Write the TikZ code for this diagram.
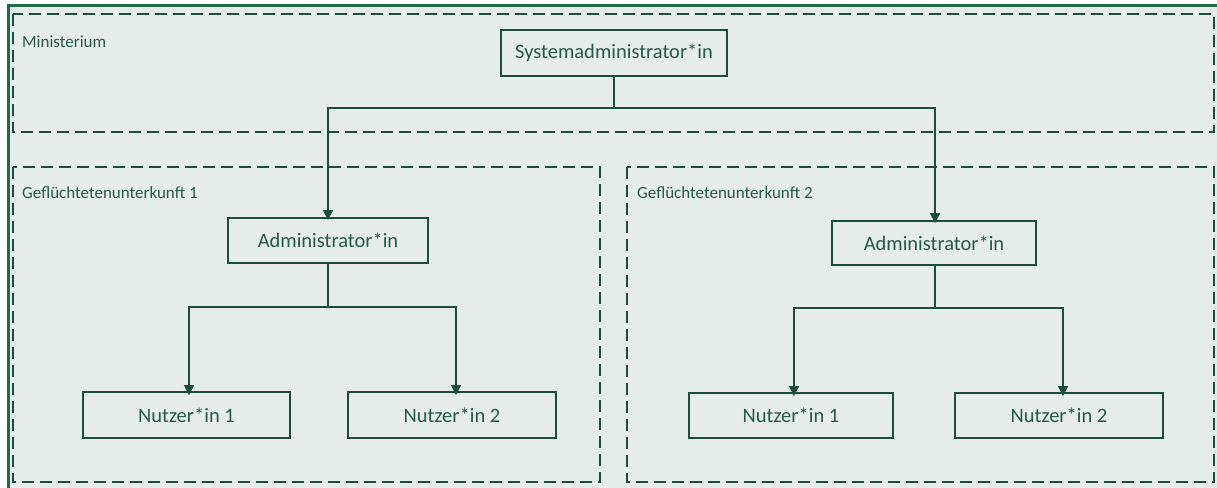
\documentclass[tikz,border=0pt]{standalone}
\usepackage{fontspec}
\setmainfont{Carlito}
\usetikzlibrary{arrows.meta}
\definecolor{bg}{HTML}{E6ECEA}
\definecolor{frame}{HTML}{1F6B45}
\definecolor{ln}{HTML}{1B4D3B}
\definecolor{txt}{HTML}{245A48}
\tikzset{
  role/.style={draw=ln, line width=1.8pt, fill=bg, text=txt, font=\fontsize{20.5}{23}\selectfont, inner sep=0pt, anchor=center},
  zone/.style={draw=ln, line width=2.2pt, dash pattern=on 12pt off 6pt},
  zlabel/.style={text=txt, font=\fontsize{17}{19}\selectfont, anchor=west, inner sep=0pt},
  link/.style={draw=ln, line width=1.6pt},
  arr/.style={link, -{Triangle[length=10pt,width=10pt]}}
}
\begin{document}
\begin{tikzpicture}[x=1pt,y=-1pt]
\useasboundingbox (0,0) rectangle (1217,487);
\begin{scope}
\clip (0,0) rectangle (1217,487);
\fill[bg] (8,6) rectangle (1230,500);
\draw[frame, line width=3pt] (8,6) rectangle (1230,500);
\end{scope}
% zones
\draw[zone] (13,14) rectangle (1214,132);
\draw[zone] (13,167) rectangle (600,482);
\draw[zone] (627,167) rectangle (1214,482);
\node[zlabel] (lmin) at (22,42) {Ministerium};
\node[zlabel] (lgu1) at (22,193) {Geflüchtetenunterkunft 1};
\node[zlabel] (lgu2) at (637,193) {Geflüchtetenunterkunft 2};
% nodes
\node[role, minimum width=226pt, minimum height=46pt] (sys) at (614,53) {Systemadministrator*in};
\node[role, minimum width=200pt, minimum height=45pt] (a1) at (328,240.5) {Administrator*in};
\node[role, minimum width=204pt, minimum height=44pt] (a2) at (934,243) {Administrator*in};
\node[role, minimum width=207pt, minimum height=46pt] (n11) at (186.5,415) {Nutzer*in 1};
\node[role, minimum width=208pt, minimum height=46pt] (n12) at (452,415) {Nutzer*in 2};
\node[role, minimum width=204pt, minimum height=45pt] (n21) at (791,415.5) {Nutzer*in 1};
\node[role, minimum width=208pt, minimum height=45pt] (n22) at (1059,415.5) {Nutzer*in 2};
% connectors
\coordinate (j0) at (614,108);
\coordinate (j1) at (328,307);
\coordinate (j2) at (935,308);
\draw[link] (sys.south) -- (j0);
\draw[arr] (j0) -| ([yshift=-3pt]a1.north);
\draw[arr] (j0) -| ([xshift=1pt,yshift=-3pt]a2.north);
\draw[link] (a1.south) -- (j1);
\draw[arr] (j1) -| ([xshift=2.5pt,yshift=-4pt]n11.north);
\draw[arr] (j1) -| ([xshift=4pt,yshift=-4pt]n12.north);
\draw[link] ([xshift=1pt]a2.south) -- (j2);
\draw[arr] (j2) -| ([xshift=3pt,yshift=-4pt]n21.north);
\draw[arr] (j2) -| ([xshift=4pt,yshift=-4pt]n22.north);
\end{tikzpicture}
\end{document}
